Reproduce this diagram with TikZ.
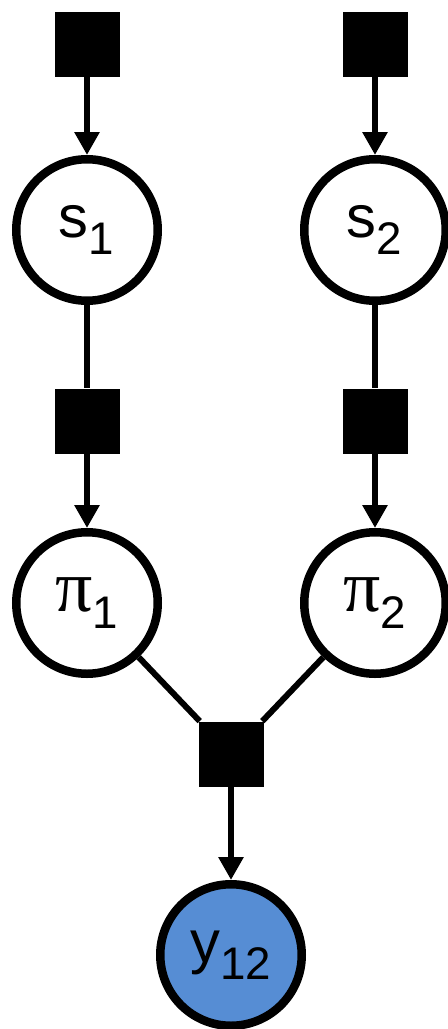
\documentclass[tikz,border=0pt]{standalone}
\usepackage{fontspec}
\setmainfont{Liberation Sans}
\newfontfamily\greekfont{Liberation Serif}
\usetikzlibrary{arrows.meta}
\definecolor{obsblue}{RGB}{86,141,212}
\begin{document}
\begin{tikzpicture}[
    var/.style={circle, draw, line width=0.17cm, minimum size=2.83cm, inner sep=0pt, fill=white, font=\fontsize{34}{36}\selectfont},
    fac/.style={rectangle, fill=black, minimum size=1.3cm, inner sep=0pt},
    arr/.style={line width=0.12cm, -{Triangle[width=0.48cm, length=0.46cm]}},
    lnk/.style={line width=0.12cm}
  ]
  \useasboundingbox (0,0) rectangle (8.94,-20.58);

  \node[fac] at (1.74, -0.88)  (f1)  {};
  \node[fac] at (7.50, -0.88)  (f2)  {};
  \node[var] at (1.74, -4.60)  (s1)  {s\textsubscript{\fontsize{26}{28}\selectfont 1}};
  \node[var] at (7.50, -4.60)  (s2)  {s\textsubscript{\fontsize{26}{28}\selectfont 2}};
  \node[fac] at (1.74, -8.42)  (g1)  {};
  \node[fac] at (7.50, -8.42)  (g2)  {};
  \node[var] at (1.74, -12.06) (pi1) {{\greekfont\fontsize{42}{44}\selectfont π}\textsubscript{\fontsize{26}{28}\selectfont 1}};
  \node[var] at (7.50, -12.06) (pi2) {{\greekfont\fontsize{42}{44}\selectfont π}\textsubscript{\fontsize{26}{28}\selectfont 2}};
  \node[fac] at (4.62, -15.08) (h)   {};
  \node[var, fill=obsblue] at (4.62, -19.10) (y) {y\textsubscript{\fontsize{26}{28}\selectfont 12}};

  \draw[arr] (f1) -- (s1);
  \draw[arr] (f2) -- (s2);
  \draw[lnk] (s1) -- (g1);
  \draw[lnk] (s2) -- (g2);
  \draw[arr] (g1) -- (pi1);
  \draw[arr] (g2) -- (pi2);
  \draw[lnk] (pi1) -- (h);
  \draw[lnk] (pi2) -- (h);
  \draw[arr] (h) -- (y);
\end{tikzpicture}
\end{document}
